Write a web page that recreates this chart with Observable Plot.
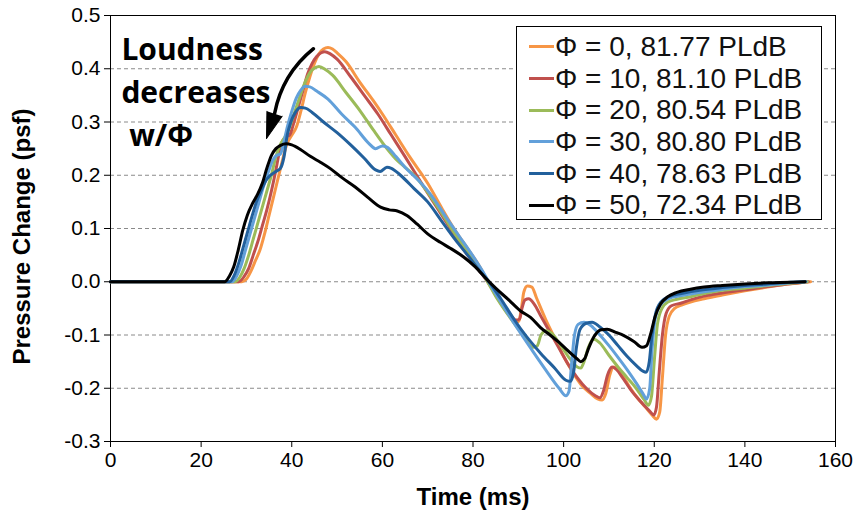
<!DOCTYPE html>
<html><head><meta charset="utf-8">
<script src="https://cdn.jsdelivr.net/npm/d3@7"></script>
<script src="https://cdn.jsdelivr.net/npm/@observablehq/plot@0.6"></script>
<style>
body{margin:0;background:#fff;}
#wrap{position:relative;width:856px;height:518px;font-family:"Liberation Sans",Arial,sans-serif;}
#legend{position:absolute;left:516px;top:26px;width:304px;height:188px;border:1.5px solid #000;background:#fff;padding-top:4px;}
.row{display:flex;align-items:center;height:31.7px;}
.sw{width:25px;height:3px;margin-left:12px;flex:none;}
.lab{font-size:28px;line-height:1;white-space:nowrap;color:#111;margin-left:1px;}
</style></head><body><div id="wrap"></div>
<script>
// ---- data ----
const seriesNames = ["Φ = 0, 81.77 PLdB","Φ = 10, 81.10 PLdB","Φ = 20, 80.54 PLdB","Φ = 30, 80.80 PLdB","Φ = 40, 78.63 PLdB","Φ = 50, 72.34 PLdB"];
const seriesColors = ["#F79646","#C0504D","#9BBB59","#62A0DA","#22609C","#000000"];
const xTicks = [0,20,40,60,80,100,120,140,160];
const yTicks = [-0.3,-0.2,-0.1,0,0.1,0.2,0.3,0.4,0.5];
const gridTicks = [-0.2,-0.1,0,0.1,0.2,0.3,0.4];
const xTitle = "Time (ms)";
const yTitle = "Pressure Change (psf)";
const annotText = "Loudness\ndecreases\n\u00a0w/Φ";
const annotAt = {t: 2.4, p: 0.474};
const arrowSpec = {t1: 44.8, p1: 0.4376, t2: 36.2, p2: 0.3155};

// time (ms), pressure (psf)
const phi0 = [[0,0],[29,0],[30,0.005],[31,0.02],[32,0.04],[33,0.06],[34,0.09],[35,0.125],[36,0.16],[37,0.195],[38,0.23],[39,0.26],[40,0.275],[41,0.29],[42,0.32],[43,0.355],[44,0.385],[45,0.41],[46,0.428],[47,0.437],[48,0.44],[49,0.437],[50,0.43],[52,0.413],[55,0.375],[58,0.34],[60,0.315],[63,0.275],[66,0.235],[70,0.185],[73,0.14],[76,0.097],[79,0.06],[81,0.035],[83,0.005],[85,-0.025],[87,-0.052],[89,-0.072],[90,-0.075],[90.7,-0.05],[91.2,-0.02],[92,-0.008],[93,-0.01],[94,-0.03],[96,-0.07],[98,-0.105],[100,-0.14],[102,-0.17],[104,-0.195],[106,-0.21],[107.5,-0.22],[108.5,-0.222],[109.3,-0.21],[110.2,-0.175],[111,-0.16],[112,-0.163],[114,-0.19],[116,-0.215],[118,-0.235],[119.5,-0.25],[120.5,-0.258],[121.2,-0.245],[121.8,-0.18],[122.5,-0.1],[123.3,-0.065],[124.5,-0.05],[126,-0.044],[128,-0.038],[131,-0.032],[135,-0.025],[140,-0.017],[145,-0.01],[150,-0.004],[154.5,0]];
const phi10 = [[0,0],[28.3,0],[29.5,0.01],[30.5,0.025],[31.5,0.05],[32.5,0.075],[33.5,0.105],[34.5,0.135],[35.5,0.17],[36.5,0.21],[37.3,0.245],[38,0.265],[38.8,0.272],[39.5,0.275],[40.5,0.3],[41.5,0.33],[42.5,0.36],[43.5,0.39],[44.5,0.41],[45.5,0.423],[46.5,0.43],[47.3,0.432],[48.5,0.428],[50,0.418],[53,0.385],[56,0.35],[59,0.315],[62,0.275],[65,0.235],[69,0.18],[72,0.14],[75,0.1],[78,0.06],[81,0.025],[83.2,0],[85,-0.023],[87.5,-0.053],[89.5,-0.072],[90.3,-0.07],[90.8,-0.05],[91.5,-0.034],[92.3,-0.032],[93.5,-0.042],[95,-0.065],[97,-0.095],[99,-0.125],[101,-0.155],[103,-0.18],[105,-0.2],[107,-0.214],[108,-0.218],[108.8,-0.205],[109.7,-0.175],[110.7,-0.16],[111.7,-0.165],[113,-0.18],[115,-0.205],[117,-0.225],[119,-0.243],[119.9,-0.25],[120.5,-0.235],[121.1,-0.17],[121.8,-0.1],[122.6,-0.06],[123.8,-0.045],[126,-0.04],[128,-0.034],[131,-0.027],[135,-0.021],[140,-0.015],[145,-0.009],[150,-0.004],[154,0]];
const phi20 = [[0,0],[27.5,0],[28.5,0.008],[29.5,0.025],[30.5,0.05],[31.5,0.08],[32.5,0.11],[33.5,0.14],[34.5,0.17],[35.5,0.2],[36.5,0.235],[37.5,0.258],[38.5,0.272],[39.5,0.29],[40.5,0.315],[41.5,0.34],[42.5,0.365],[43.5,0.385],[44.5,0.398],[46,0.404],[47.5,0.398],[49,0.388],[52,0.355],[55,0.322],[58,0.285],[61,0.25],[63,0.23],[65,0.215],[67,0.2],[70,0.168],[73,0.13],[76,0.09],[79,0.055],[81,0.03],[83.2,0],[85,-0.027],[88,-0.065],[91,-0.1],[93.2,-0.123],[94.2,-0.12],[95,-0.1],[96.2,-0.092],[97.5,-0.098],[99,-0.115],[101,-0.14],[103,-0.16],[103.8,-0.162],[104.5,-0.15],[105.5,-0.122],[106.7,-0.108],[108,-0.115],[110,-0.138],[112,-0.16],[114,-0.18],[116,-0.2],[117.8,-0.222],[118.7,-0.232],[119.4,-0.215],[120,-0.15],[120.7,-0.08],[121.7,-0.05],[123,-0.038],[125,-0.033],[128,-0.028],[131,-0.022],[135,-0.016],[140,-0.012],[145,-0.007],[150,-0.003],[153.8,0]];
const phi30 = [[0,0],[26.8,0],[27.8,0.01],[28.8,0.03],[29.8,0.06],[30.8,0.09],[31.8,0.12],[32.8,0.15],[33.8,0.18],[34.8,0.205],[35.8,0.228],[36.6,0.237],[37.5,0.24],[38.2,0.26],[39,0.29],[40,0.32],[41,0.345],[42,0.36],[43,0.367],[44,0.366],[45.5,0.358],[48,0.343],[51,0.315],[54,0.29],[57,0.26],[58.5,0.25],[60,0.255],[61,0.253],[63,0.235],[65,0.215],[68,0.19],[71,0.16],[74,0.122],[77,0.085],[80,0.048],[82.8,0.01],[84,-0.008],[87,-0.05],[90,-0.09],[93,-0.128],[96,-0.165],[99,-0.2],[100.5,-0.214],[101.2,-0.205],[101.8,-0.15],[102.4,-0.1],[103.2,-0.08],[104.5,-0.076],[106,-0.082],[108,-0.1],[110,-0.12],[112,-0.142],[114,-0.165],[116,-0.19],[117.5,-0.21],[118.3,-0.22],[119,-0.2],[119.5,-0.13],[120.2,-0.07],[121.2,-0.045],[123,-0.032],[126,-0.026],[130,-0.02],[135,-0.014],[140,-0.009],[145,-0.006],[150,-0.002],[153.5,0]];
const phi40 = [[0,0],[26.3,0],[27.3,0.012],[28.3,0.035],[29.3,0.065],[30.3,0.095],[31.3,0.125],[32.3,0.152],[33.3,0.172],[34.3,0.19],[35.3,0.2],[36.5,0.207],[37.5,0.213],[38.3,0.235],[39,0.275],[39.8,0.3],[40.8,0.318],[42,0.327],[43,0.326],[44.5,0.318],[47,0.3],[50,0.28],[53,0.257],[56,0.232],[58.5,0.21],[59.5,0.207],[61,0.215],[62,0.213],[64,0.2],[67,0.175],[70,0.15],[73,0.115],[76,0.08],[79,0.048],[82,0.015],[83.5,0],[86,-0.03],[89,-0.07],[92,-0.105],[95,-0.135],[98,-0.162],[100.5,-0.185],[101.5,-0.187],[102.2,-0.17],[102.8,-0.125],[103.6,-0.09],[105,-0.078],[106.3,-0.076],[108,-0.085],[110,-0.1],[112,-0.12],[114,-0.14],[116,-0.157],[117.5,-0.168],[118.2,-0.17],[118.9,-0.15],[119.5,-0.1],[120.3,-0.06],[121.5,-0.038],[123.5,-0.027],[126,-0.022],[130,-0.016],[135,-0.011],[140,-0.007],[145,-0.004],[150,-0.001],[153.3,0]];
const phi50 = [[0,0],[25.2,0],[26.2,0.01],[27.2,0.028],[28.2,0.06],[29.2,0.097],[30.2,0.125],[31.4,0.148],[32.5,0.165],[33.5,0.185],[34.5,0.213],[35.5,0.237],[36.5,0.25],[37.5,0.256],[38.8,0.259],[40,0.257],[42,0.248],[44,0.236],[46.4,0.224],[48.6,0.212],[51,0.196],[54,0.178],[57,0.157],[59.6,0.14],[61.5,0.135],[63.3,0.133],[65.5,0.124],[67.7,0.108],[70,0.09],[72.8,0.074],[75,0.063],[78,0.046],[80.5,0.028],[83,0.005],[85,-0.012],[88,-0.035],[90.5,-0.055],[92.7,-0.067],[94.9,-0.086],[97,-0.1],[99,-0.114],[101,-0.13],[103,-0.145],[103.8,-0.15],[104.6,-0.145],[105.5,-0.125],[106.7,-0.103],[108.3,-0.09],[109.6,-0.089],[111.5,-0.095],[113.3,-0.101],[115.5,-0.112],[117.3,-0.123],[118.3,-0.12],[119.2,-0.098],[120.2,-0.065],[121.4,-0.042],[123,-0.028],[125,-0.02],[128,-0.014],[131,-0.01],[135,-0.007],[140,-0.004],[145,-0.002],[150,-0.001],[153.3,0]];

const seriesData = [phi0, phi10, phi20, phi30, phi40, phi50];
const rows = seriesData.flatMap((arr, i) => arr.map(([t, p]) => ({name: seriesNames[i], t, p})));

const marks = [
  Plot.gridY(gridTicks, {stroke: "#8a8a8a", strokeOpacity: 1, strokeDasharray: "4,3"}),
  Plot.frame({stroke: "#000", strokeWidth: 1}),
  Plot.axisX(xTicks, {tickSize: 6, tickPadding: 5, fontSize: 21, tickFormat: d => String(d), label: null}),
  Plot.axisY(yTicks, {tickSize: 6, tickPadding: 4, fontSize: 21, tickFormat: d => d.toFixed(1), label: null}),
  Plot.line(rows, {x: "t", y: "p", z: "name", stroke: "name", strokeWidth: 3, curve: "monotone-x"}),
  Plot.text([xTitle], {frameAnchor: "bottom", text: d => d, dy: 63, fontWeight: "bold", fontSize: 24}),
  Plot.text([yTitle], {frameAnchor: "left", textAnchor: "middle", text: d => d, rotate: -90, dx: -88, dy: 8, fontWeight: "bold", fontSize: 24}),
  Plot.text([annotText], {x: () => annotAt.t, y: () => annotAt.p, text: d => d, textAnchor: "start", lineAnchor: "top", lineHeight: 1.44, fontSize: 30, fontWeight: "bold", fontFamily: "Open Sans", fill: "#000"}),
  Plot.arrow([arrowSpec], {x1: "t1", y1: "p1", x2: "t2", y2: "p2", bend: -20, stroke: "#000", strokeWidth: 3.5, headLength: 0})
];
if (typeof Plot.spike === "function") {
  marks.push(Plot.vector([arrowSpec], {x: "t2", y: "p2", length: 26, rotate: 198, shape: "spike", r: 8, anchor: "start", stroke: "#000", fill: "#000", strokeWidth: 1}));
} else {
  marks.push(Plot.dot([arrowSpec], {x: "t2", y: "p2", symbol: "triangle", r: 10, rotate: 198, fill: "#000"}));
}

const chart = Plot.plot({
  width: 856, height: 518,
  marginLeft: 110, marginRight: 21, marginTop: 15, marginBottom: 77,
  style: {fontFamily: "'Liberation Sans', Arial, sans-serif", background: "white", color: "#000"},
  x: {domain: [0, 160]},
  y: {domain: [-0.3, 0.5]},
  color: {domain: seriesNames, range: seriesColors},
  marks
});
const wrap = document.getElementById("wrap");
wrap.appendChild(chart);

const legend = document.createElement("div");
legend.id = "legend";
seriesNames.forEach((n, i) => {
  const r = document.createElement("div"); r.className = "row";
  const s = document.createElement("div"); s.className = "sw"; s.style.background = seriesColors[i];
  const l = document.createElement("div"); l.className = "lab"; l.textContent = n;
  r.appendChild(s); r.appendChild(l); legend.appendChild(r);
});
wrap.appendChild(legend);
</script></body></html>
